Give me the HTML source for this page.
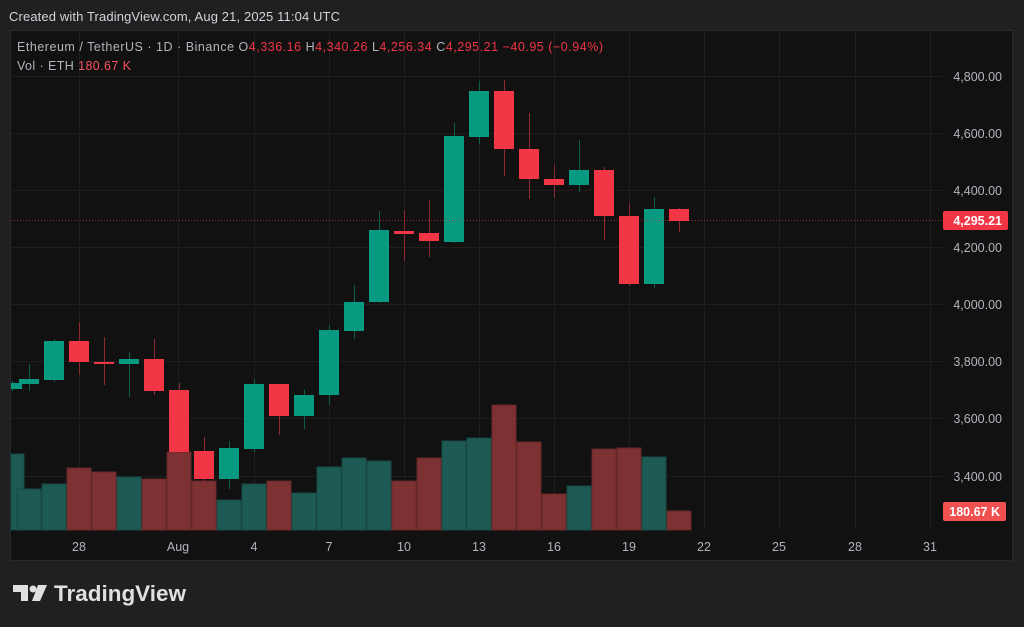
<!DOCTYPE html>
<html><head><meta charset="utf-8"><style>
html,body{margin:0;padding:0;background:#202020;}
body{width:1024px;height:627px;overflow:hidden;position:relative;font-family:"Liberation Sans",sans-serif;}
svg{position:absolute;left:0;top:0;}
</style></head><body>
<svg id="s" width="1024" height="627" xmlns="http://www.w3.org/2000/svg">
<rect x="0" y="0" width="1024" height="627" fill="#202020"/>
<rect x="10.5" y="30.5" width="1002" height="530" fill="#111111" stroke="#2a2a2a"/>
<g id="grid" stroke="#1e1e1e" stroke-width="1"></g>
<g id="vol"></g>
<g id="cdl"></g>
<line x1="11" y1="220.5" x2="942" y2="220.5" stroke="#f23645" stroke-opacity="0.6" stroke-dasharray="1,2"/>
<text x="9" y="21" fill="#d1d4dc" font-size="13" textLength="331" lengthAdjust="spacing">Created with TradingView.com, Aug 21, 2025 11:04 UTC</text>
<text x="17" y="51" font-size="12.5" fill="#b2b5be" textLength="586" lengthAdjust="spacing">Ethereum / TetherUS · 1D · Binance  O<tspan fill="#f23645">4,336.16</tspan>  H<tspan fill="#f23645">4,340.26</tspan>  L<tspan fill="#f23645">4,256.34</tspan>  C<tspan fill="#f23645">4,295.21</tspan>  <tspan fill="#f23645">−40.95 (−0.94%)</tspan></text>
<text x="17" y="70" font-size="12.5" fill="#b2b5be" textLength="114" lengthAdjust="spacing">Vol · ETH  <tspan fill="#f7525f">180.67 K</tspan></text>
<g font-size="12.5" fill="#b2b5be" text-anchor="end">
<text x="1002" y="81">4,800.00</text>
<text x="1002" y="138">4,600.00</text>
<text x="1002" y="195">4,400.00</text>
<text x="1002" y="252">4,200.00</text>
<text x="1002" y="309">4,000.00</text>
<text x="1002" y="366">3,800.00</text>
<text x="1002" y="423">3,600.00</text>
<text x="1002" y="481">3,400.00</text>
</g>
<rect x="943" y="211" width="65" height="19" rx="2" fill="#f23645"/>
<text x="1002" y="225" font-size="12.5" fill="#fff" text-anchor="end" font-weight="bold">4,295.21</text>
<rect x="943" y="502" width="63" height="19" rx="2" fill="#f0504f"/>
<text x="1000" y="516" font-size="12.5" fill="#fff" text-anchor="end" font-weight="bold">180.67 K</text>
<g font-size="12.5" fill="#b2b5be" text-anchor="middle">
<text x="79" y="551">28</text><text x="178" y="551">Aug</text><text x="254" y="551">4</text>
<text x="329" y="551">7</text><text x="404" y="551">10</text><text x="479" y="551">13</text>
<text x="554" y="551">16</text><text x="629" y="551">19</text><text x="704" y="551">22</text>
<text x="779" y="551">25</text><text x="855" y="551">28</text><text x="930" y="551">31</text>
</g>
<g fill="#e0e0e0">
<path d="M13 585 H28 V601 H21 V592 H13 Z"/>
<circle cx="33" cy="589" r="3.5"/>
<path d="M38 585 H47 L40 601 H32 Z"/>
</g>
<text x="54" y="601" font-size="22.5" font-weight="bold" fill="#e0e0e0" textLength="132" lengthAdjust="spacingAndGlyphs">TradingView</text>
</svg>
<script>
var NS="http://www.w3.org/2000/svg";
function el(p,t,a){var e=document.createElementNS(NS,t);for(var k in a)e.setAttribute(k,a[k]);p.appendChild(e);}
var g=document.getElementById('grid');
[79,178,254,329,404,479,554,629,704,779,855,930].forEach(function(x){el(g,'line',{x1:x+.5,y1:31,x2:x+.5,y2:530});});
[76,133,190,247,304,361,418,476].forEach(function(y){el(g,'line',{x1:11,y1:y+.5,x2:942,y2:y+.5});});
var C=[[12,383,389,381,391,1],[29,379,384,364,391,1],[54,341,380,339,382,1],[79,341,362,322,375,0],[104,362,364,337,385,0],[129,359,364,352,397,1],[154,359,391,339,395,0],[179,390,452,383,467,0],[204,451,479,437,485,0],[229,448,479,441,489,1],[254,384,449,379,452,1],[279,384,416,384,435,0],[304,395,416,390,429,1],[329,330,395,325,405,1],[354,302,331,285,339,1],[379,230,302,211,303,1],[404,231,234,210,261,0],[429,233,241,200,257,0],[454,136,242,123,243,1],[479,91,137,81,144,1],[504,91,149,80,176,0],[529,149,179,113,199,0],[554,179,185,165,198,0],[579,170,185,140,192,1],[604,170,216,167,240,0],[629,216,284,203,286,0],[654,209,284,197,288,1],[679,209,221,208,232,0]];
var V=[[12,454,1],[29,489,1],[54,484,1],[79,468,0],[104,472,0],[129,477,1],[154,479,0],[179,452,0],[204,481,0],[229,500,1],[254,484,1],[279,481,0],[304,493,1],[329,467,1],[354,458,1],[379,461,1],[404,481,0],[429,458,0],[454,441,1],[479,438,1],[504,405,0],[529,442,0],[554,494,0],[579,486,1],[604,449,0],[629,448,0],[654,457,1],[679,511,0]];
var vg=document.getElementById('vol');
V.forEach(function(v){var x0=Math.max(11,v[0]-12),x1=v[0]+12;el(vg,'rect',{x:x0,y:v[1],width:x1-x0,height:530-v[1],fill:v[2]?'#1e5a54':'#7d3133',stroke:v[2]?'#174843':'#652729','stroke-width':1});});
var cg=document.getElementById('cdl');
C.forEach(function(c){var col=c[5]?'#089981':'#f23645';var wc=c[5]?'#0b5e50':'#8c2a33';
el(cg,'line',{x1:c[0]+.5,y1:c[3],x2:c[0]+.5,y2:c[4],stroke:wc,'stroke-width':1});
var x0=Math.max(11,c[0]-10);el(cg,'rect',{x:x0,y:c[1],width:c[0]+10-x0,height:Math.max(2,c[2]-c[1]),fill:col});});
</script>
</body></html>
